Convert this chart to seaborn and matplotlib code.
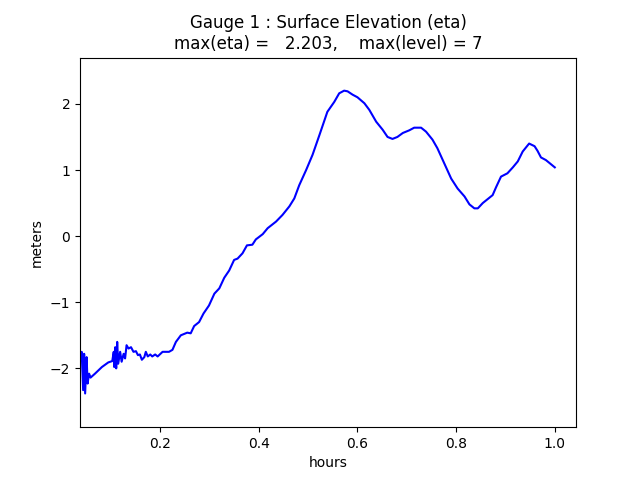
import matplotlib
matplotlib.use('Agg')
import matplotlib.pyplot as plt
import seaborn as sns

# gauge 1 time series
hours = [0.039, 0.041, 0.044, 0.046, 0.048, 0.051, 0.053, 0.056, 0.059, 0.068,
         0.082, 0.095, 0.103, 0.106, 0.107, 0.109, 0.111, 0.113, 0.115, 0.119,
         0.122, 0.126, 0.129, 0.132, 0.136, 0.141, 0.146, 0.151, 0.155, 0.159,
         0.163, 0.168, 0.171, 0.175, 0.180, 0.184, 0.190, 0.195, 0.205, 0.218,
         0.225, 0.232, 0.242, 0.255, 0.262, 0.269, 0.279, 0.288, 0.299, 0.310,
         0.320, 0.330, 0.340, 0.350, 0.357, 0.367, 0.376, 0.387, 0.394, 0.408,
         0.418, 0.435, 0.448, 0.462, 0.472, 0.482, 0.496, 0.509, 0.523, 0.539,
         0.553, 0.563, 0.573, 0.580, 0.590, 0.600, 0.614, 0.624, 0.638, 0.651,
         0.661, 0.671, 0.681, 0.692, 0.705, 0.715, 0.729, 0.739, 0.752, 0.762,
         0.776, 0.790, 0.803, 0.817, 0.827, 0.837, 0.844, 0.854, 0.864, 0.874,
         0.881, 0.891, 0.904, 0.915, 0.925, 0.935, 0.948, 0.959, 0.965, 0.972,
         0.982, 1.000]
eta = [-1.88, -1.75, -2.33, -1.78, -2.38, -1.83, -2.23, -2.08, -2.14, -2.08,
       -1.98, -1.91, -1.89, -1.75, -1.98, -1.68, -2.00, -1.60, -1.93, -1.75,
       -1.90, -1.78, -1.85, -1.65, -1.70, -1.68, -1.75, -1.74, -1.80, -1.79,
       -1.87, -1.83, -1.75, -1.82, -1.79, -1.82, -1.79, -1.82, -1.75, -1.75,
       -1.72, -1.60, -1.50, -1.46, -1.47, -1.36, -1.30, -1.17, -1.05, -0.87,
       -0.79, -0.63, -0.52, -0.36, -0.34, -0.26, -0.14, -0.13, -0.05, 0.03,
       0.12, 0.22, 0.32, 0.45, 0.57, 0.77, 1.00, 1.23, 1.53, 1.88,
       2.03, 2.16, 2.20, 2.19, 2.14, 2.10, 2.01, 1.91, 1.73, 1.61,
       1.50, 1.47, 1.50, 1.56, 1.60, 1.64, 1.64, 1.58, 1.46, 1.33,
       1.10, 0.87, 0.72, 0.60, 0.48, 0.42, 0.42, 0.50, 0.56, 0.62,
       0.74, 0.90, 0.95, 1.04, 1.13, 1.28, 1.40, 1.36, 1.29, 1.19,
       1.15, 1.04]

gauge_no = 1
max_eta = 2.203
max_level = 7

fig, ax = plt.subplots(figsize=(6.4, 4.8), dpi=100)
sns.lineplot(x=hours, y=eta, color='b', linewidth=1.5, ax=ax)
ax.set_xlim(0.0376, 1.043)
ax.set_ylim(-2.89, 2.70)
ax.set_xlabel('hours')
ax.set_ylabel('meters')
ax.set_title('Gauge %i : Surface Elevation (eta)\nmax(eta) = %7.3f,    max(level) = %i'
             % (gauge_no, max_eta, max_level))
fig.savefig('out.png', dpi=100)
